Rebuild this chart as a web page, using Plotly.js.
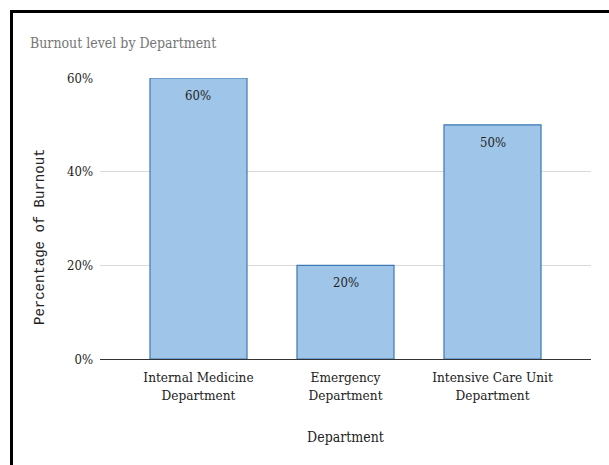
<!DOCTYPE html>
<html>
<head>
<meta charset="utf-8">
<script src="https://cdn.plot.ly/plotly-3.0.1.min.js"></script>
<style>
html,body{margin:0;padding:0;background:#fff;}
#wrap{position:relative;width:609px;height:465px;overflow:hidden;}
#chart{position:absolute;left:0;top:0;width:609px;height:465px;}
#frame{position:absolute;left:10px;top:10px;width:700px;height:600px;border-top:3px solid #000;border-left:3px solid #000;pointer-events:none;}
</style>
</head>
<body>
<div id="wrap"><div id="chart"></div><div id="frame"></div></div>
<script>
var categories = ["Internal Medicine<br>Department", "Emergency<br>Department", "Intensive Care Unit<br>Department"];
var burnout = [0.60, 0.20, 0.50];
var barLabels = ["60%", "20%", "50%"];
var yTicks = [0, 0.2, 0.4, 0.6];
var yTickLabels = ["0%", "20%", "40%", "60%"];

var FONT = "DejaVu Serif Condensed, DejaVu Serif, serif";
var MONO = "Liberation Mono, DejaVu Sans Mono, monospace";

var trace = {
  type: "bar",
  x: categories,
  y: burnout,
  width: 0.66,
  marker: {color: "#9fc5e8", line: {color: "#3d78b5", width: 1.2}},
  hoverinfo: "none"
};

var annotations = categories.map(function(c, i){
  return {x: c, y: burnout[i], xref: "x", yref: "y", text: barLabels[i], showarrow: false,
    yanchor: "top", yshift: -8, font: {family: FONT, size: 13, color: "#222"}};
});
// y-axis title, placed like the reference (slightly below the plot centre)
annotations.push({text: "Percentage of Burnout", xref: "paper", yref: "paper",
  x: (40 - 100) / 491, y: (359 - 237) / 281, xanchor: "center", yanchor: "middle",
  textangle: -90, showarrow: false, font: {family: MONO, size: 14, color: "#222"}});

var layout = {
  width: 609, height: 465,
  margin: {l: 100, r: 18, t: 78, b: 106, pad: 0},
  paper_bgcolor: "#fff", plot_bgcolor: "#fff",
  showlegend: false,
  title: {text: "Burnout level by Department", x: 30/609, xanchor: "left", xref: "container",
    y: 1 - 43/465, yanchor: "middle", yref: "container",
    font: {family: FONT, size: 14, color: "#757575"}},
  xaxis: {
    type: "category", range: [-0.67, 2.67],
    showgrid: false, showline: true, linecolor: "#333", linewidth: 1,
    ticks: "", tickfont: {family: FONT, size: 13.5, color: "#222"}, ticklabelstandoff: 6,
    title: {text: "Department", font: {family: FONT, size: 14, color: "#222"}, standoff: 30},
    fixedrange: true
  },
  yaxis: {
    range: [0, 0.6], tickvals: yTicks, ticktext: yTickLabels,
    showgrid: true, gridcolor: "#d9d9d9", gridwidth: 1, zeroline: false,
    ticks: "", tickfont: {family: FONT, size: 13, color: "#222"}, ticklabelstandoff: 6,
    fixedrange: true
  },
  annotations: annotations
};

Plotly.newPlot("chart", [trace], layout, {displayModeBar: false, staticPlot: true});
</script>
</body>
</html>
